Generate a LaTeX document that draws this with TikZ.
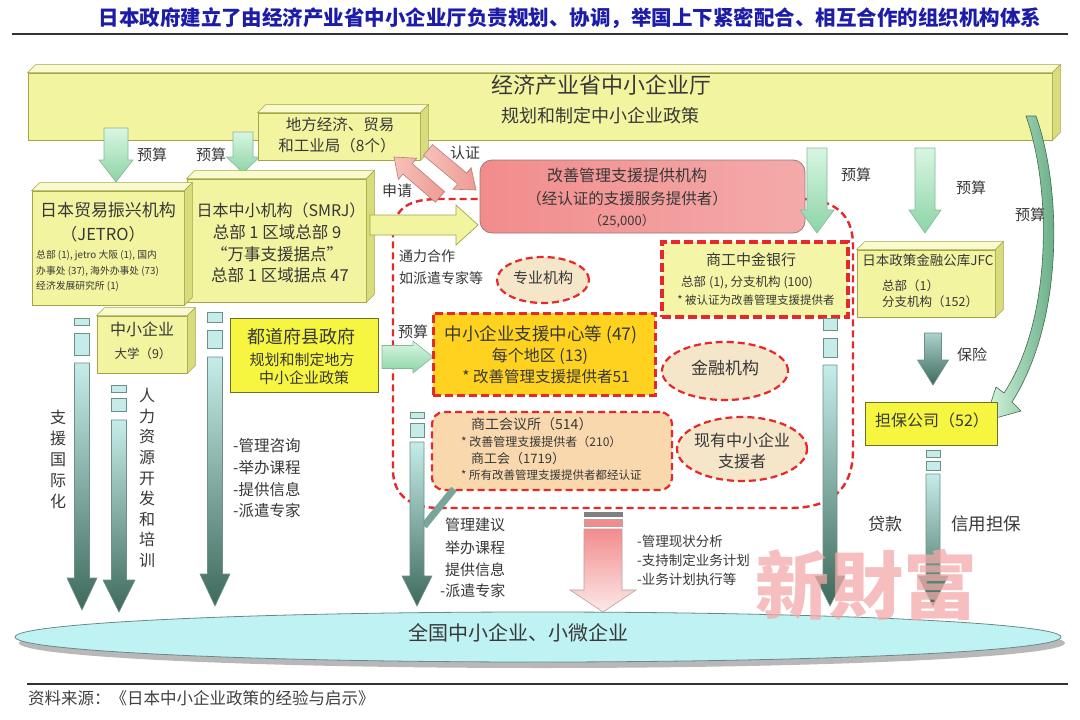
\documentclass[tikz,border=0pt]{standalone}
\usepackage{fontspec}
\setmainfont{Noto Sans CJK SC}
\usetikzlibrary{calc,shapes.geometric}
\newcommand\fs[1]{\fontsize{#1}{#1}\selectfont}
\newcommand\fsb[2]{\fontsize{#1}{#2}\selectfont}
\definecolor{yfront}{HTML}{F2F4A0}
\definecolor{ytop}{HTML}{F9FBCF}
\definecolor{yside}{HTML}{D9DC7C}
\definecolor{yedge}{HTML}{A3A646}
\definecolor{ybright}{HTML}{F6F53F}
\definecolor{bedge}{HTML}{6E6E2A}
\definecolor{reddash}{HTML}{E62828}
\definecolor{beige}{HTML}{F6E6C9}
\definecolor{peach}{HTML}{F9D8AE}
\definecolor{gold}{HTML}{FFD21F}
\definecolor{bankfill}{HTML}{F5F5A8}
\definecolor{gtop}{HTML}{D8F6E2}
\definecolor{gbot}{HTML}{8CD4A6}
\definecolor{gedge}{HTML}{86B896}
\definecolor{ttop}{HTML}{C6ECE9}
\definecolor{tbot}{HTML}{3E6A5C}
\definecolor{tedge}{HTML}{6E8F86}
\definecolor{titleblue}{HTML}{1C1CA8}
\definecolor{txt}{HTML}{383838}
\definecolor{cyanfill}{HTML}{BFF3F3}
\definecolor{elledge}{HTML}{6A8888}
\definecolor{pinkA}{HTML}{F28C8C}
\definecolor{pinkB}{HTML}{F9C8C8}
\definecolor{pinkC}{HTML}{F4AAAA}
\definecolor{pinkedge}{HTML}{9A7A7A}
\definecolor{rarL}{HTML}{F6C2BA}
\definecolor{rarR}{HTML}{EE9A94}
\definecolor{raredge}{HTML}{B87C74}
\definecolor{wm}{HTML}{F3A9A9}
\definecolor{curveR}{HTML}{5AA47A}
\definecolor{curveEdge}{HTML}{3E6A50}
\newcommand\boxdepth[1]{%
  \filldraw[fill=ytop, draw=yedge, line width=0.6pt] (#1.north west) -- ++(8,-8) -- ($(#1.north east)+(8,-8)$) -- (#1.north east) -- cycle;
  \filldraw[fill=yside, draw=yedge, line width=0.6pt] (#1.north east) -- ++(8,-8) -- ($(#1.south east)+(8,-8)$) -- (#1.south east) -- cycle;}
\newcommand\fatarrow[6]{%
  \coordinate (fa-t) at #2; \coordinate (fa-p) at #3;
  \coordinate (fa-b) at ($(fa-p)!#6!(fa-t)$);
  \path[#1] ($(fa-t)!#4!90:(fa-p)$) -- ($(fa-b)!#4!90:(fa-p)$) -- ($(fa-b)!#5!90:(fa-p)$) -- (fa-p) -- ($(fa-b)!#5!-90:(fa-p)$) -- ($(fa-b)!#4!-90:(fa-p)$) -- ($(fa-t)!#4!-90:(fa-p)$) -- cycle;}
\begin{document}
\begin{tikzpicture}[x=1pt,y=-1pt,
  t/.style={inner sep=0pt, text height=0.88em, text depth=0.12em, text=txt},
  tl/.style={t, anchor=west},
  vt/.style={inner sep=0pt, align=center, text=txt},
  ybox/.style={fill=yfront, draw=yedge, line width=0.7pt, inner sep=0pt},
  bbox/.style={fill=ybright, draw=bedge, line width=0.9pt, inner sep=0pt},
  rdash/.style={draw=reddash, dash pattern=on 7pt off 4pt, line width=2.2pt},
  ell/.style={ellipse, fill=beige, rdash, inner sep=0pt},
  garrow/.style={top color=gtop, bottom color=gbot, draw=gedge, line width=0.6pt},
  tarrow/.style={top color=ttop, bottom color=tbot, draw=tedge, line width=0.6pt},
  darrow/.style={top color=ttop!80!tbot, bottom color=tbot, draw=tedge, line width=0.6pt},
  parrow/.style={top color=pinkA, bottom color=pinkB!40!white, draw=pinkedge!70, line width=0.6pt},
  rarrow/.style={left color=rarL, right color=rarR, draw=raredge, line width=0.6pt},
  yarrow/.style={fill=yfront, draw=yedge, line width=0.7pt},
  stripe/.style={fill=ttop, draw=tedge, line width=0.6pt}]
\useasboundingbox (0,0) rectangle (1080,720);
\fill[white] (0,0) rectangle (1080,720);

% title
\node[inner sep=0pt, font=\fs{20.5}\bfseries, text=titleblue] (title) at (570,18) {日本政府建立了由经济产业省中小企业厅负责规划、协调，举国上下紧密配合、相互合作的组织机构体系};
\draw[line width=1.8pt, draw=black!80] (12,34) -- (1068,34);

% top box
\node[ybox, minimum width=1024pt, minimum height=67pt] (meti) at (540,106.5) {};
\boxdepth{meti}
\node[t, font=\fs{22}] (meti1) at (601,90) {经济产业省中小企业厅};
\node[t, font=\fs{18}] (meti2) at (600,119) {规划和制定中小企业政策};

% curved arrow on the right
\path[left color=gtop, right color=curveR, draw=curveEdge, line width=0.6pt]
 (1026,116) .. controls (1052,190) and (1052,320) .. (1004,393)
 -- (996,387) -- (985,421) -- (1021,411) -- (1012,402)
 .. controls (1064,320) and (1062,190) .. (1036,116) -- cycle;

% budget arrows left
\fatarrow{garrow}{(116,128)}{(116,182)}{12pt}{17pt}{22pt}
\fatarrow{garrow}{(243,132)}{(243,173)}{10pt}{16.5pt}{16pt}
\node[t, font=\fs{15}] (ys1) at (152,157) {预算};
\node[t, font=\fs{15}] (ys2) at (211,157) {预算};

% local bureau
\node[ybox, minimum width=162pt, minimum height=47pt] (local) at (339,136.5) {};
\boxdepth{local}
\node[t, font=\fs{15.5}] (local1) at (340,127) {地方经济、贸易};
\node[t, font=\fs{15.5}] (local2) at (337,148) {和工业局（8个）};

% red dashed region
\draw[rdash, line width=2.4pt] (393,235) .. controls (393,207) and (410,199) .. (440,199) -- (800,199)
  .. controls (835,199) and (853,215) .. (853,245) -- (853,450)
  .. controls (853,490) and (830,508) .. (790,508) -- (440,508)
  .. controls (410,508) and (393,495) .. (393,470) -- cycle;

% SMRJ and JETRO
\node[ybox, minimum width=179pt, minimum height=123pt] (smrj) at (276.5,240.5) {};
\boxdepth{smrj}
\node[t, font=\fs{16}] (smrj1) at (281,213) {日本中小机构（SMRJ）};
\node[t, font=\fs{16.5}] (smrj2) at (277,235) {总部 1 区域总部 9};
\node[t, font=\fs{16.5}] (smrj3) at (277,257) {“万事支援据点”};
\node[t, font=\fs{16.5}] (smrj4) at (280,278) {总部 1 区域据点 47};

\node[ybox, minimum width=152pt, minimum height=114pt] (jetro) at (108,248) {};
\boxdepth{jetro}
\node[t, font=\fs{17}] (jetro1) at (108,213) {日本贸易振兴机构};
\node[t, font=\fs{16.5}] (jetro2) at (103,237) {（JETRO）};
\node[tl, font=\fs{9.8}] (jetro3) at (36,255) {总部 (1), jetro 大阪 (1), 国内};
\node[tl, font=\fs{9.8}] (jetro4) at (36,271) {办事处 (37), 海外办事处 (73)};
\node[tl, font=\fs{9.8}] (jetro5) at (36,286) {经济发展研究所 (1)};

% certification arrows
\fatarrow{rarrow}{(440,197)}{(394,157)}{7pt}{14pt}{18pt}
\fatarrow{rarrow}{(428,150)}{(476,190)}{7pt}{14pt}{18pt}
\node[t, font=\fs{15}] (renzheng) at (465,155) {认证};
\node[t, font=\fs{15}] (shenqing) at (397,193) {申请};

% yellow arrow SMRJ -> provider
\fatarrow{yarrow}{(370,225)}{(478,225)}{10pt}{20pt}{22pt}

% provider box
\node[rounded corners=12pt, left color=pinkA, middle color=pinkB, right color=pinkC, draw=pinkedge, line width=0.8pt, minimum width=325pt, minimum height=73pt, inner sep=0pt] (prov) at (642.5,196.5) {};
\node[t, font=\fs{16}] (prov1) at (627,178) {改善管理支援提供机构};
\node[t, font=\fs{15.5}] (prov2) at (627,201) {（经认证的支援服务提供者）};
\node[t, font=\fs{13}] (prov3) at (622,222) {（25,000）};

% budget arrows right
\fatarrow{garrow}{(817,148)}{(817,233)}{10pt}{17pt}{23pt}
\fatarrow{garrow}{(925,148)}{(925,233)}{10pt}{16pt}{23pt}
\node[t, font=\fs{15}] (ys3) at (856,177) {预算};
\node[t, font=\fs{15}] (ys4) at (971,190) {预算};
\node[t, font=\fs{15}] (ys5) at (1030,217) {预算};

% Shoko Chukin bank
\node[fill=bankfill, draw=reddash, dash pattern=on 9pt off 4pt, line width=3.5pt, minimum width=186pt, minimum height=75pt, inner sep=0pt] (bank) at (755,279.5) {};
\node[t, font=\fs{15}] (bank1) at (751,262) {商工中金银行};
\node[t, font=\fs{12.5}] (bank2) at (747,283) {总部 (1), 分支机构 (100)};
\node[t, font=\fs{11.5}] (bank3) at (756,301) {* 被认证为改善管理支援提供者};

% JFC
\node[ybox, minimum width=138pt, minimum height=67pt] (jfc) at (926,283.5) {};
\boxdepth{jfc}
\node[t, font=\fs{13.5}] (jfc1) at (928,262) {日本政策金融公库JFC};
\node[tl, font=\fs{12.5}] (jfc2) at (882,287) {总部（1）};
\node[tl, font=\fs{12.5}] (jfc3) at (882,303) {分支机构（152）};

% cooperation text and ellipses
\node[tl, font=\fs{14}] (coop1) at (399,258) {通力合作};
\node[tl, font=\fs{14}] (coop2) at (399,280) {如派遣专家等};
\node[ell, minimum width=92pt, minimum height=46pt] (zhuanye) at (543,280) {};
\node[t, font=\fs{15}] (zhuanyet) at (543,280) {专业机构};
\node[ell, minimum width=126pt, minimum height=58pt] (jinrong) at (725,371) {};
\node[t, font=\fs{17}] (jinrongt) at (725,371) {金融机构};
\node[ell, minimum width=130pt, minimum height=64pt] (xianyou) at (742,449) {};
\node[t, font=\fs{16}] (xianyou1) at (742,443) {现有中小企业};
\node[t, font=\fs{16}] (xianyou2) at (742,464) {支援者};

% SME university
\node[ybox, minimum width=90pt, minimum height=57pt] (univ) at (142,344.5) {};
\boxdepth{univ}
\node[t, font=\fs{16}] (univ1) at (142,332) {中小企业};
\node[t, font=\fs{12.5}] (univ2) at (143,355) {大学（9）};

% prefectures
\node[bbox, minimum width=148pt, minimum height=74pt] (pref) at (304,355) {};
\node[t, font=\fs{18}] (pref1) at (301,340) {都道府县政府};
\node[t, font=\fs{15}] (pref2) at (302,362) {规划和制定地方};
\node[t, font=\fs{15}] (pref3) at (304,380) {中小企业政策};

\fatarrow{garrow}{(382,357)}{(433,357)}{11.5pt}{16pt}{20pt}
\node[t, font=\fs{15}] (ys6) at (413,334) {预算};

% support center
\node[fill=gold, draw=reddash, dash pattern=on 8pt off 4pt, line width=3pt, minimum width=222pt, minimum height=82pt, inner sep=0pt] (center) at (544,354) {};
\node[t, font=\fs{17.5}] (center1) at (541,337) {中小企业支援中心等 (47)};
\node[t, font=\fs{16}] (center2) at (540,358) {每个地区 (13)};
\node[t, font=\fs{15.5}] (center3) at (546,379) {* 改善管理支援提供者51};

% chambers
\node[fill=peach, rounded corners=12pt, rdash, minimum width=240pt, minimum height=78pt, inner sep=0pt] (chamber) at (552,451) {};
\node[tl, font=\fs{14}] (ch1) at (471,426) {商工会议所（514）};
\node[tl, font=\fs{12}] (ch2) at (461,443) {* 改善管理支援提供者（210）};
\node[tl, font=\fs{13}] (ch3) at (471,460) {商工会（1719）};
\node[tl, font=\fs{11.5}] (ch4) at (461,476) {* 所有改善管理支援提供者都经认证};

% guarantee company and insurance
\node[bbox, minimum width=132pt, minimum height=43pt] (guar) at (931,423.5) {};
\node[t, font=\fs{16}] (guart) at (932,423) {担保公司（52）};
\fatarrow{darrow}{(933,333)}{(933,385)}{8.5pt}{15.5pt}{25pt}
\node[t, font=\fs{15}] (baoxian) at (972,357) {保险};

% bottom ellipse
\node[ellipse, fill=black!28, minimum width=1046pt, minimum height=50pt, inner sep=0pt] (shadow) at (542,643) {};
\node[ellipse, fill=cyanfill, draw=elledge, line width=0.8pt, minimum width=1046pt, minimum height=50pt, inner sep=0pt] (nation) at (538,637) {};
\node[t, font=\fs{20}] (nationt) at (518,637) {全国中小企业、小微企业};

% long arrows
\filldraw[stripe] (74.5,318) rectangle (89.5,325);
\filldraw[stripe] (74.5,333) rectangle (89.5,355);
\fatarrow{tarrow}{(82,363)}{(82,610)}{7.5pt}{15pt}{32pt}
\filldraw[stripe] (111.5,385) rectangle (126.5,392);
\filldraw[stripe] (111.5,398) rectangle (126.5,411);
\fatarrow{tarrow}{(119,420)}{(119,612)}{7.5pt}{16pt}{32pt}
\filldraw[stripe] (207.5,312) rectangle (222.5,322);
\filldraw[stripe] (207.5,330) rectangle (222.5,348);
\fatarrow{tarrow}{(215,357)}{(215,606)}{7.5pt}{15pt}{32pt}
\draw[line width=7pt, draw=tbot!55!ttop] (454,489) -- (424,526);
\filldraw[stripe] (410,412) rectangle (424,418);
\filldraw[stripe] (410,423) rectangle (424,437);
\fatarrow{tarrow}{(417,442)}{(417,606)}{7pt}{15pt}{30pt}
\filldraw[stripe] (823,318) rectangle (837,330);
\filldraw[stripe] (823,338) rectangle (837,357);
\fatarrow{tarrow}{(830,365)}{(830,606)}{7pt}{15pt}{30pt}
\filldraw[stripe] (926,450) rectangle (940,457);
\filldraw[stripe] (926,461) rectangle (940,470);
\fatarrow{tarrow}{(933,474)}{(933,606)}{7pt}{15pt}{30pt}

% pink arrow
\filldraw[fill=black!50, draw=black!50] (584,512) rectangle (622,516);
\filldraw[fill=pinkA, draw=pinkedge!70] (584,519) rectangle (622,526);
\fatarrow{parrow}{(603,529)}{(603,612)}{19pt}{33pt}{22pt}

% side labels
\node[vt, font=\fsb{16}{21}] (intl) at (58,459) {支\\援\\国\\际\\化};
\node[vt, font=\fsb{16}{20.6}] (hr) at (147,478) {人\\力\\资\\源\\开\\发\\和\\培\\训};
\node[tl, font=\fs{15.5}] (sv1) at (233,448) {-管理咨询};
\node[tl, font=\fs{15.5}] (sv2) at (233,470) {-举办课程};
\node[tl, font=\fs{15.5}] (sv3) at (233,492) {-提供信息};
\node[tl, font=\fs{15.5}] (sv4) at (233,513) {-派遣专家};
\node[tl, font=\fs{15}] (cv1) at (445,527) {管理建议};
\node[tl, font=\fs{15}] (cv2) at (445,550) {举办课程};
\node[tl, font=\fs{15}] (cv3) at (445,572) {提供信息};
\node[tl, font=\fs{15}] (cv4) at (440,593) {-派遣专家};
\node[tl, font=\fs{13.5}] (pv1) at (637,543) {-管理现状分析};
\node[tl, font=\fs{13.5}] (pv2) at (637,562) {-支持制定业务计划};
\node[tl, font=\fs{13.5}] (pv3) at (637,581) {-业务计划执行等};
\node[t, font=\fs{17}] (daikuan) at (885,527) {贷款};
\node[t, font=\fs{17.5}] (xinyong) at (986,527) {信用担保};

% watermark
\node[inner sep=0pt, font=\fs{74}\bfseries, text=wm, opacity=0.75] (wmark) at (866,585) {新財富};

% source
\draw[line width=1.4pt, draw=black!80] (27,684) -- (1068,684);
\node[tl, font=\fs{16.5}, text=black!75] (source) at (28,701) {资料来源：《日本中小企业政策的经验与启示》};
\end{tikzpicture}
\end{document}
